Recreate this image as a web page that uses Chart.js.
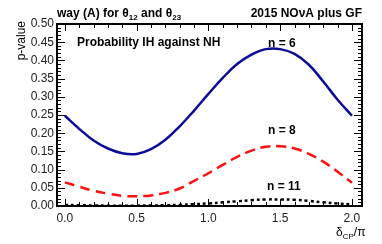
<!DOCTYPE html>
<html>
<head>
<meta charset="utf-8">
<script src="https://cdn.jsdelivr.net/npm/chart.js@4/dist/chart.umd.min.js"></script>
<style>
  html, body { margin: 0; padding: 0; background: #fff; }
  #wrap { width: 382px; height: 244px; position: relative; }
</style>
</head>
<body>
<div id="wrap"><canvas id="chart" width="382" height="244"></canvas></div>
<script>
// delta_CP / pi sample points
const deltaCP = [0.0, 0.1, 0.2, 0.3, 0.4, 0.5, 0.6, 0.7, 0.8, 0.9, 1.0,
                 1.1, 1.2, 1.3, 1.4, 1.5, 1.6, 1.7, 1.8, 1.9, 2.0];
// p-values
const pN6  = [0.248, 0.212, 0.180, 0.158, 0.145, 0.143, 0.156, 0.182, 0.219, 0.262, 0.308,
              0.352, 0.390, 0.416, 0.431, 0.431, 0.418, 0.388, 0.342, 0.292, 0.248];
const pN8  = [0.065, 0.053, 0.042, 0.034, 0.028, 0.027, 0.029, 0.036, 0.048, 0.069, 0.090,
              0.113, 0.135, 0.152, 0.163, 0.164, 0.158, 0.143, 0.122, 0.094, 0.064];
const pN11 = [0.003, 0.002, 0.0015, 0.001, 0.001, 0.001, 0.0015, 0.002, 0.003, 0.005, 0.007,
              0.010, 0.013, 0.016, 0.018, 0.018, 0.017, 0.014, 0.010, 0.007, 0.004];
const xTicks = [0.0, 0.5, 1.0, 1.5, 2.0];
const yTicks = [0.00, 0.05, 0.10, 0.15, 0.20, 0.25, 0.30, 0.35, 0.40, 0.45, 0.50];

const FONT = 'Liberation Sans, Arial, Helvetica, sans-serif';

const toPts = ys => deltaCP.map((x, i) => ({ x: x, y: ys[i] }));

// ROOT-like frame with inward major/minor ticks on all four sides
const frameTicks = {
  id: 'frameTicks',
  afterDatasetsDraw(chart) {
    const { ctx, chartArea: a, scales: { x, y } } = chart;
    ctx.save();
    ctx.strokeStyle = '#000';
    ctx.lineWidth = 1;
    ctx.beginPath();
    for (let i = 0; i <= 50; i++) {
      const v = i * 0.01;
      const py = Math.round(y.getPixelForValue(v)) + 0.5;
      const len = i % 5 === 0 ? 8 : 4;
      ctx.moveTo(a.left, py); ctx.lineTo(a.left + len, py);
      ctx.moveTo(a.right, py); ctx.lineTo(a.right - len, py);
    }
    for (let i = 0; i <= 20; i++) {
      const v = i * 0.1;
      const px = Math.round(x.getPixelForValue(v)) + 0.5;
      const len = i % 5 === 0 ? 7 : 4;
      ctx.moveTo(px, a.bottom); ctx.lineTo(px, a.bottom - len);
      ctx.moveTo(px, a.top); ctx.lineTo(px, a.top + len);
    }
    ctx.stroke();
    ctx.lineWidth = 2;
    ctx.strokeRect(a.left, a.top, a.right - a.left, a.bottom - a.top);
    ctx.restore();
  }
};

// titles and labels
const labels = {
  id: 'labels',
  afterDraw(chart) {
    const { ctx, chartArea: a } = chart;
    ctx.save();
    ctx.fillStyle = '#000';
    ctx.textBaseline = 'alphabetic';

    // top-left title with subscripts
    let cx = a.left;
    const put = (t, size, dy) => {
      ctx.font = 'bold ' + size + 'px ' + FONT;
      ctx.fillText(t, cx, 17 + dy);
      cx += ctx.measureText(t).width;
    };
    ctx.textAlign = 'left';
    put('way (A) for \u03b8', 12, 0);
    put('12', 8, 3);
    put(' and \u03b8', 12, 0);
    put('23', 8, 3);

    ctx.font = 'bold 12px ' + FONT;
    ctx.textAlign = 'right';
    ctx.fillText('2015 NO\u03bdA plus GF', a.right, 17);

    ctx.textAlign = 'left';
    ctx.fillText('Probability IH against NH', 77, 46);
    ctx.fillText('n = 6', 268, 47);
    ctx.fillText('n = 8', 268, 134);
    ctx.fillText('n = 11', 267, 190);

    // y-axis title
    ctx.save();
    ctx.translate(25, a.top - 3);
    ctx.rotate(-Math.PI / 2);
    ctx.textAlign = 'right';
    ctx.font = '12px ' + FONT;
    ctx.fillText('p-value', 0, 0);
    ctx.restore();

    // x-axis title: delta_CP / pi
    ctx.font = '12px ' + FONT;
    let tx = 336;
    ctx.textAlign = 'left';
    ctx.fillText('\u03b4', tx, 236);
    tx += ctx.measureText('\u03b4').width;
    ctx.font = '8px ' + FONT;
    ctx.fillText('CP', tx, 239);
    tx += ctx.measureText('CP').width;
    ctx.font = '12px ' + FONT;
    ctx.fillText('/\u03c0', tx, 236);
    ctx.restore();
  }
};

new Chart(document.getElementById('chart'), {
  type: 'line',
  data: {
    datasets: [
      { label: 'n = 6', data: toPts(pN6), borderColor: '#0c0c96', borderWidth: 2.5,
        pointRadius: 0, tension: 0.4 },
      { label: 'n = 8', data: toPts(pN8), borderColor: '#ff1010', borderWidth: 2.5,
        borderDash: [10, 6], pointRadius: 0, tension: 0.4 },
      { label: 'n = 11', data: toPts(pN11), borderColor: '#000', borderWidth: 2.5,
        borderDash: [3, 3], pointRadius: 0, tension: 0.4 }
    ]
  },
  options: {
    responsive: false,
    animation: false,
    layout: { padding: { left: 0, right: 20, top: 24, bottom: 0 } },
    plugins: { legend: { display: false }, tooltip: { enabled: false } },
    scales: {
      x: {
        type: 'linear', min: -0.055, max: 2.07,
        afterBuildTicks: s => { s.ticks = xTicks.map(v => ({ value: v })); },
        afterFit: s => { s.height = 38; },
        grid: { display: false, drawTicks: false },
        border: { display: false },
        ticks: { color: '#222', padding: 5, font: { family: FONT, size: 12 },
                 callback: v => v.toFixed(1), maxRotation: 0, autoSkip: false }
      },
      y: {
        min: 0, max: 0.5,
        afterBuildTicks: s => { s.ticks = yTicks.map(v => ({ value: v })); },
        afterFit: s => { s.width = 57; },
        grid: { display: false, drawTicks: false },
        border: { display: false },
        ticks: { color: '#222', padding: 3, font: { family: FONT, size: 12 },
                 callback: v => v.toFixed(2), autoSkip: false }
      }
    }
  },
  plugins: [frameTicks, labels]
});
</script>
</body>
</html>
